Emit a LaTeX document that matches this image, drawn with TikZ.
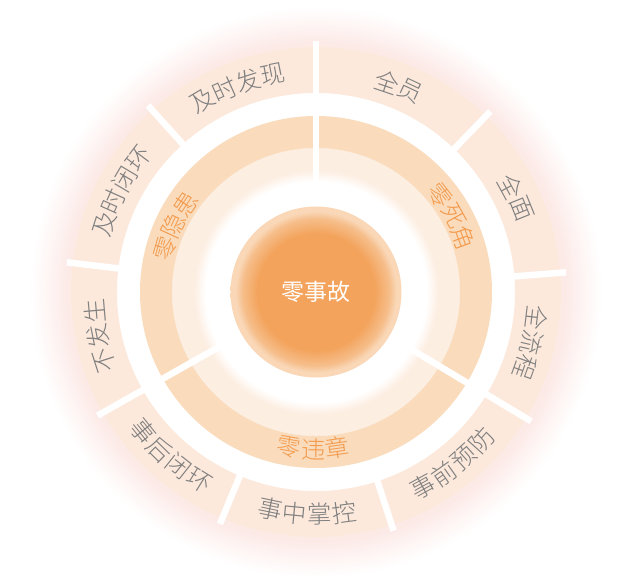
\documentclass[tikz,border=0pt]{standalone}
\usepackage{fontspec}
\newfontfamily\cjk{Noto Sans CJK SC}
\IfFontExistsTF{Noto Sans CJK SC Light}{\newfontfamily\cjkl{Noto Sans CJK SC Light}}{\newfontfamily\cjkl{Noto Sans CJK SC}}
\definecolor{ringOuter}{HTML}{FCE9DC}
\definecolor{ringDark}{HTML}{FADCBD}
\definecolor{ringLight}{HTML}{FDEEE2}
\definecolor{coreOrange}{HTML}{F3A35B}
\definecolor{coreMid}{HTML}{F6BE8B}
\definecolor{corePale}{HTML}{F9D7B7}
\definecolor{glowPink}{HTML}{FCEAE7}
\definecolor{lblGray}{HTML}{7F7F7F}
\definecolor{lblOrange}{HTML}{F39A4C}
\pgfdeclareradialshading{glowshade}{\pgfpointorigin}{color(0bp)=(white); color(20bp)=(white); color(20.6bp)=(glowPink); color(21.4bp)=(glowPink); color(22.8bp)=(glowPink!50!white); color(24.5bp)=(white); color(50bp)=(white)}
\pgfdeclareradialshading{lightband}{\pgfpointorigin}{color(0bp)=(white); color(19.2bp)=(white); color(21.2bp)=(ringLight); color(25bp)=(ringLight); color(50bp)=(ringLight)}
\pgfdeclareradialshading{coreshade}{\pgfpointorigin}{color(0bp)=(coreOrange); color(17bp)=(coreOrange); color(21.5bp)=(coreMid); color(23.5bp)=(corePale); color(25bp)=(corePale); color(50bp)=(corePale)}
\tikzset{
  gapline/.style={white, line width=6.5pt},
  outerlbl/.style={inner sep=0pt, text=lblGray, font=\cjkl\fontsize{24.5}{24.5}\selectfont},
  midlbl/.style={inner sep=0pt, text=lblOrange, font=\cjkl\fontsize{24}{24}\selectfont},
  corelbl/.style={inner sep=0pt, text=white, font=\cjk\fontsize{23}{23}\selectfont},
}
% clockwise text, tops outward
\newcommand\arccw[7]{%
  \foreach \lc [count=\i] in {#7}{%
    \pgfmathsetmacro\ang{#3+((#6+1)/2-\i)*#5}%
    \node[#1, rotate=\ang-90] (#2-\i) at (\ang:#4) {\lc};
  }}
% counterclockwise text, tops inward
\newcommand\arcccw[7]{%
  \foreach \lc [count=\i] in {#7}{%
    \pgfmathsetmacro\ang{#3-((#6+1)/2-\i)*#5}%
    \node[#1, rotate=\ang+90] (#2-\i) at (\ang:#4) {\lc};
  }}
\begin{document}
\begin{tikzpicture}[x=1pt,y=1pt]
\useasboundingbox (-316,-282) rectangle (307,292);
\fill[white] (-316,-282) rectangle (307,292);
% outer glow
\shade[shading=glowshade] (0,0) circle (292);
% outer ring
\fill[ringOuter, even odd rule] (0,0) circle (245) (0,0) circle (199);
% light band and middle ring
\shade[shading=lightband] (0,0) circle (144);
\fill[ringDark, even odd rule] (0,0) circle (176) (0,0) circle (144);
% gaps
\foreach \a in {90,46,4.5,-31,-72,-112.5,-150.5,173.2,132}
  \draw[gapline] (\a:196) -- (\a:251);
\foreach \a in {90,-31,209.5}
  \draw[gapline] (\a:108) -- (\a:179);
% core
\shade[shading=coreshade] (0,0) circle (85.5);
\node[corelbl] (core) at (0,0) {零事故};
% middle labels
\arccw{midlbl}{zsj}{29}{157}{8.9}{3}{零,死,角}
\arccw{midlbl}{zyh}{155}{157}{8.9}{3}{零,隐,患}
\arcccw{midlbl}{zwz}{-91}{157}{8.9}{3}{零,违,章}
% outer labels
\arccw{outerlbl}{qy}{68}{222}{6.45}{2}{全,员}
\arccw{outerlbl}{qm}{25.2}{222}{6.45}{2}{全,面}
\arccw{outerlbl}{qlc}{-13.2}{222}{6.45}{3}{全,流,程}
\arcccw{outerlbl}{sqyf}{-51.5}{222}{6.45}{4}{事,前,预,防}
\arcccw{outerlbl}{szzk}{-92.2}{222}{6.45}{4}{事,中,掌,控}
\arcccw{outerlbl}{shbh}{-131.5}{222}{6.45}{4}{事,后,闭,环}
\arccw{outerlbl}{bfs}{191.4}{222}{6.45}{3}{不,发,生}
\arccw{outerlbl}{jsbh}{152.6}{222}{6.45}{4}{及,时,闭,环}
\arccw{outerlbl}{jsfx}{111}{222}{6.45}{4}{及,时,发,现}
\end{tikzpicture}
\end{document}
